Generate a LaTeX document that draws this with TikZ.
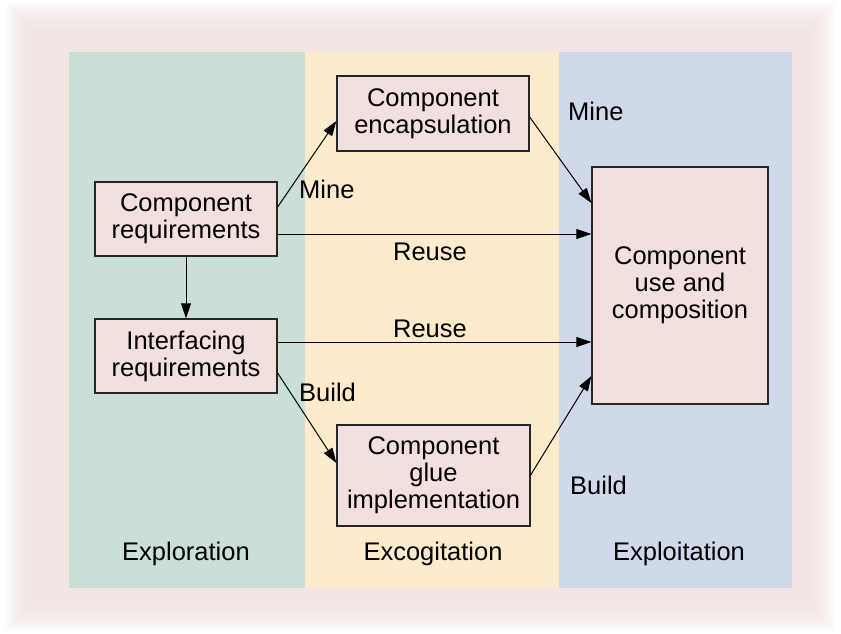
\documentclass[tikz,border=0pt]{standalone}
\usepackage{fontspec}
\setmainfont{Liberation Sans}
\usetikzlibrary{arrows.meta}
\definecolor{bgpink}{HTML}{F1E6E4}
\definecolor{teal}{HTML}{C9DFD8}
\definecolor{sand}{HTML}{FDEBCB}
\definecolor{bluish}{HTML}{D0D9EA}
\definecolor{boxfill}{HTML}{F3DFDE}
\tikzset{
  stepbox/.style={draw=black!85, line width=1.3pt, fill=boxfill, inner sep=0pt, align=center,
    font=\fontsize{25.5}{27}\selectfont},
  lbl/.style={font=\fontsize{25.5}{27}\selectfont, inner sep=0pt},
  conn/.style={line width=1pt, -{Triangle[length=15pt,width=10pt]}}
}
\begin{document}
\begin{tikzpicture}[x=1pt,y=-1pt]
\useasboundingbox (0,0) rectangle (841,633);
\fill[white] (0,0) rectangle (841,633);
% fuzzy textured background
\foreach \i in {0,...,14}{
  \fill[bgpink, opacity=0.12] (34-2*\i,30-2*\i) rectangle (807+2*\i,603+2*\i);
}
\fill[bgpink] (34,30) rectangle (807,603);
% panels
\fill[teal] (69,52) rectangle (305,588);
\fill[sand] (305,52) rectangle (559,588);
\fill[bluish] (559,52) rectangle (792,588);
% boxes
\node[stepbox, minimum width=182pt, minimum height=74pt] (creq) at (186,219) {Component\\requirements};
\node[stepbox, minimum width=182pt, minimum height=74pt] (ireq) at (186,356) {Interfacing\\requirements};
\node[stepbox, minimum width=192pt, minimum height=75pt] (enc) at (433,113.5) {Component\\encapsulation};
\node[stepbox, minimum width=193pt, minimum height=101pt] (glue) at (433.5,475.5) {Component\\glue\\implementation};
\node[stepbox, minimum width=176pt, minimum height=237pt] (use) at (680,285.5) {Component\\use and\\composition};
% connectors
\draw[conn] (creq.east |- 0,207) -- (enc.west |- 0,121);
\draw[conn] (creq.east |- 0,234) -- (use.west |- 0,234);
\draw[conn] (creq.south) -- (ireq.north);
\draw[conn] (ireq.east |- 0,342) -- (use.west |- 0,342);
\draw[conn] (ireq.east |- 0,373) -- (glue.west |- 0,463);
\draw[conn] (enc.east |- 0,117) -- (use.west |- 0,203);
\draw[conn] (glue.east |- 0,475) -- (use.west |- 0,376);
% labels
\node[lbl, anchor=west] (l1) at (299,189) {Mine};
\node[lbl, anchor=west] (l2) at (568,111) {Mine};
\node[lbl] (l3) at (430,252) {Reuse};
\node[lbl] (l4) at (430,329) {Reuse};
\node[lbl, anchor=west] (l5) at (299,392) {Build};
\node[lbl, anchor=west] (l6) at (570,485) {Build};
\node[lbl] (p1) at (186,554) {Exploration};
\node[lbl] (p2) at (433,554) {Excogitation};
\node[lbl] (p3) at (679,554) {Exploitation};
\end{tikzpicture}
\end{document}
